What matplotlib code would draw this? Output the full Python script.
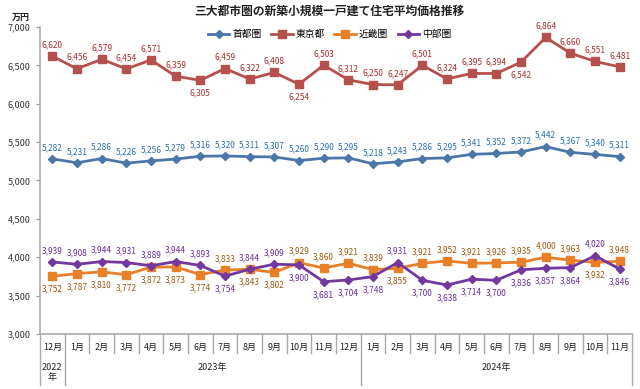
import matplotlib
matplotlib.use("Agg")
import matplotlib.pyplot as plt
import matplotlib.transforms as mtransforms

plt.rcParams['font.family'] = ['Noto Sans CJK JP', 'DejaVu Sans']

months = ["12月", "1月", "2月", "3月", "4月", "5月", "6月", "7月", "8月", "9月", "10月", "11月",
          "12月", "1月", "2月", "3月", "4月", "5月", "6月", "7月", "8月", "9月", "10月", "11月"]
years = [("2022\n年", 0, 1), ("2023年", 1, 13), ("2024年", 13, 24)]

shutoken = [5282, 5231, 5286, 5226, 5256, 5279, 5316, 5320, 5311, 5307, 5260, 5290,
            5295, 5218, 5243, 5286, 5295, 5341, 5352, 5372, 5442, 5367, 5340, 5311]
tokyo = [6620, 6456, 6579, 6454, 6571, 6359, 6305, 6459, 6322, 6408, 6254, 6503,
         6312, 6250, 6247, 6501, 6324, 6395, 6394, 6542, 6864, 6660, 6551, 6481]
kinki = [3752, 3787, 3810, 3772, 3872, 3873, 3774, 3833, 3843, 3802, 3929, 3860,
         3921, 3839, 3855, 3921, 3952, 3921, 3926, 3935, 4000, 3963, 3932, 3948]
chubu = [3939, 3908, 3944, 3931, 3889, 3944, 3893, 3754, 3844, 3909, 3900, 3681,
         3704, 3748, 3931, 3700, 3638, 3714, 3700, 3836, 3857, 3864, 4020, 3846]

# label side per point: 1 above, -1 below
tokyo_pos = [1, 1, 1, 1, 1, 1, -1, 1, 1, 1, -1, 1, 1, 1, 1, 1, 1, 1, 1, -1, 1, 1, 1, 1]
shutoken_pos = [1] * 24
kinki_pos = [-1, -1, -1, -1, -1, -1, -1, 1, -1, -1, 1, 1, 1, 1, -1, 1, 1, 1, 1, 1, 1, 1, -1, 1]
chubu_pos = [1, 1, 1, 1, 1, 1, 1, -1, 1, 1, -1, -1, -1, -1, 1, -1, -1, -1, -1, -1, -1, -1, 1, -1]

series = [
    ("首都圏", shutoken, shutoken_pos, "#4A76A8", "#2A6FAE", "D", 4.5),
    ("東京都", tokyo, tokyo_pos, "#B5504C", "#A8302E", "s", 6),
    ("近畿圏", kinki, kinki_pos, "#E8802A", "#9A5A12", "s", 6),
    ("中部圏", chubu, chubu_pos, "#7238A0", "#6A2E9A", "D", 4.5),
]

fig = plt.figure(figsize=(6.4, 3.89), dpi=100)
ax = fig.add_axes([0.0625, 0.1414, 0.925, 0.7892])

x = list(range(len(months)))
for name, vals, pos, lc, tc, mk, ms in series:
    ax.plot(x, vals, color=lc, lw=2, marker=mk, markersize=ms, label=name)
    for i, v in enumerate(vals):
        off = 5 if pos[i] > 0 else -6
        ax.annotate(f"{v:,}", (i, v), xytext=(0, off), textcoords="offset points",
                    ha="center", va="bottom" if pos[i] > 0 else "top",
                    fontsize=6, color=tc)

ax.set_xlim(-0.5, len(months) - 0.5)
ax.set_ylim(3000, 7000)
ax.set_yticks(range(3000, 7001, 500))
ax.set_yticklabels([f"{v:,}" for v in range(3000, 7001, 500)], fontsize=6.5, color="#333333")
ax.tick_params(axis="y", length=3, color="#999999", pad=4)
ax.set_xticks([])
for s in ["top", "right"]:
    ax.spines[s].set_visible(False)
for s in ["left", "bottom"]:
    ax.spines[s].set_color("#aaaaaa")
    ax.spines[s].set_linewidth(1.2)

# category table below the axis
trans = mtransforms.blended_transform_factory(ax.transData, ax.transAxes)
for i, m in enumerate(months):
    ax.text(i, -0.045, m, transform=trans, ha="center", va="center", fontsize=6.5, color="#222222")
bounds = set()
for label, a, b in years:
    bounds.update([a, b])
    ax.text((a + b - 1) / 2, -0.11 if "\n" not in label else -0.125, label, transform=trans,
            ha="center", va="center", fontsize=6.5, color="#222222", linespacing=1.2)
for k in range(len(months) + 1):
    low = -0.165 if k in bounds else -0.062
    ax.plot([k - 0.5, k - 0.5], [0, low], transform=trans, color="#aaaaaa", lw=1, clip_on=False)

fig.text(0.515, 0.972, "三大都市圏の新築小規模一戸建て住宅平均価格推移", ha="center", va="center",
         fontsize=8.5, fontweight="bold", color="#222222")
fig.text(0.032, 0.955, "万円", ha="center", va="center", fontsize=6.5, fontweight="bold", color="#222222")
fig.legend(loc="center", bbox_to_anchor=(0.515, 0.912), ncol=4, frameon=False, fontsize=7,
           handlelength=2.2, columnspacing=1.0, handletextpad=0.3)

fig.savefig("out.png", dpi=100)
